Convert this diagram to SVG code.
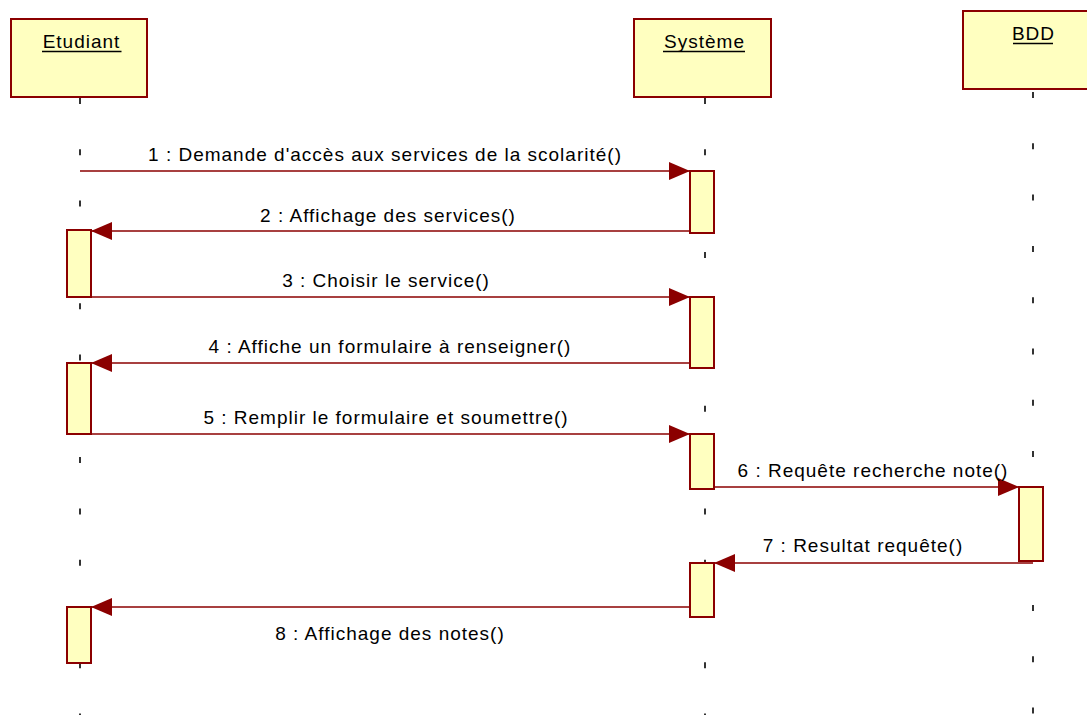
<svg xmlns="http://www.w3.org/2000/svg" width="1087" height="715" viewBox="0 0 1087 715">
<style>
.head{fill:#FFFFC0;stroke:#8B0000;stroke-width:2}
.act{fill:#FFFFC0;stroke:#8B0000;stroke-width:2}
.life{stroke:#000;stroke-width:1.6;stroke-dasharray:6 45.3;fill:none}
.ul{stroke:#000;stroke-width:1.6}
.t{font-family:"Liberation Sans",Arial,sans-serif;font-size:19px;letter-spacing:1px;fill:#000;text-anchor:middle}
.msg{stroke:#8B0000;stroke-width:1.6;fill:none;marker-end:url(#ah)}
</style>
<defs>
<marker id="ah" viewBox="0 0 21 18" refX="21" refY="9" markerWidth="21" markerHeight="18" markerUnits="userSpaceOnUse" orient="auto">
<path d="M0,0 L21,9 L0,18 Z" fill="#8B0000"/>
</marker>
</defs>
<rect width="1087" height="715" fill="#fff"/>
<g id="etudiant">
<line class="life" x1="80" y1="98" x2="80" y2="715"/>
<rect class="head" x="11" y="19" width="136" height="78"/>
<text class="t" x="81.5" y="48">Etudiant</text>
<line class="ul" x1="42" y1="51.5" x2="121.5" y2="51.5"/>
<rect class="act" x="67" y="230" width="24" height="67"/>
<rect class="act" x="67" y="363" width="24" height="71"/>
<rect class="act" x="67" y="607" width="24" height="56"/>
</g>
<g id="systeme">
<line class="life" x1="705" y1="98" x2="705" y2="715"/>
<rect class="head" x="634" y="19" width="137" height="78"/>
<text class="t" x="704.5" y="48">Système</text>
<line class="ul" x1="663" y1="51.5" x2="745" y2="51.5"/>
<rect class="act" x="690" y="171" width="24" height="62"/>
<rect class="act" x="690" y="297" width="24" height="71"/>
<rect class="act" x="690" y="434" width="24" height="55"/>
<rect class="act" x="690" y="563" width="24" height="54"/>
</g>
<g id="bdd">
<line class="life" x1="1033" y1="92" x2="1033" y2="715"/>
<rect class="head" x="963" y="11" width="140" height="78"/>
<text class="t" x="1033.5" y="40">BDD</text>
<line class="ul" x1="1013" y1="43.5" x2="1053" y2="43.5"/>
<rect class="act" x="1019" y="487" width="24" height="74"/>
</g>
<g id="connectors">
<line class="msg" x1="80" y1="171" x2="690" y2="171"/>
<text class="t" x="385" y="161">1 : Demande d'accès aux services de la scolarité()</text>
<line class="msg" x1="690" y1="231" x2="91" y2="231"/>
<text class="t" x="388" y="222">2 : Affichage des services()</text>
<line class="msg" x1="80" y1="297" x2="690" y2="297"/>
<text class="t" x="386" y="287">3 : Choisir le service()</text>
<line class="msg" x1="690" y1="363" x2="91" y2="363"/>
<text class="t" x="390" y="353">4 : Affiche un formulaire à renseigner()</text>
<line class="msg" x1="80" y1="434" x2="690" y2="434"/>
<text class="t" x="386" y="424">5 : Remplir le formulaire et soumettre()</text>
<line class="msg" x1="714" y1="487" x2="1019" y2="487"/>
<text class="t" x="873" y="477">6 : Requête recherche note()</text>
<line class="msg" x1="1033" y1="563" x2="714" y2="563"/>
<text class="t" x="863" y="552">7 : Resultat requête()</text>
<line class="msg" x1="690" y1="607" x2="91" y2="607"/>
<text class="t" x="390" y="640">8 : Affichage des notes()</text>
</g>
</svg>
